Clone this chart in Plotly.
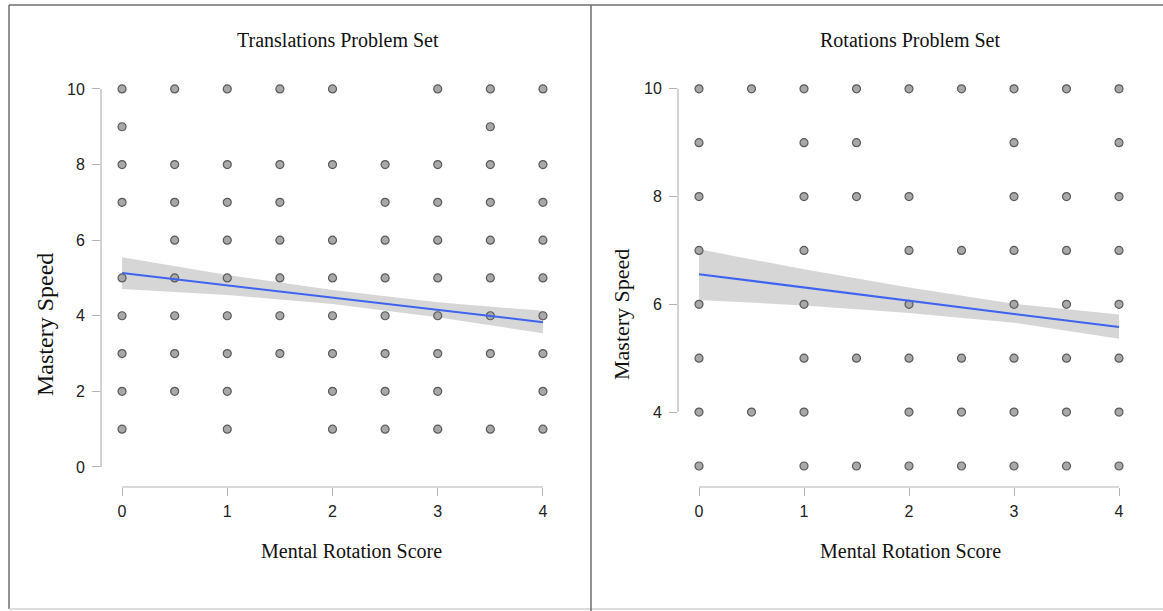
import plotly.graph_objects as go

# ---------------- data ----------------
# Translations Problem Set (left panel)
trans_x = [0, 0.5, 1, 1.5, 2, 3, 3.5, 4,
           0, 3.5,
           0, 0.5, 1, 1.5, 2, 2.5, 3, 3.5, 4,
           0, 0.5, 1, 1.5, 2.5, 3, 3.5, 4,
           0.5, 1, 1.5, 2, 2.5, 3, 3.5, 4,
           0, 0.5, 1, 1.5, 2, 2.5, 3, 3.5, 4,
           0, 0.5, 1, 1.5, 2, 2.5, 3, 3.5, 4,
           0, 0.5, 1, 1.5, 2, 2.5, 3, 3.5, 4,
           0, 0.5, 1, 2, 2.5, 3, 4,
           0, 1, 2, 2.5, 3, 3.5, 4]
trans_y = [10] * 8 + [9] * 2 + [8] * 9 + [7] * 8 + [6] * 8 + [5] * 9 + [4] * 9 + [3] * 9 + [2] * 7 + [1] * 7

# Rotations Problem Set (right panel)
rot_x = [0, 0.5, 1, 1.5, 2, 2.5, 3, 3.5, 4,
         0, 1, 1.5, 3, 4,
         0, 1, 1.5, 2, 3, 3.5, 4,
         0, 1, 2, 2.5, 3, 3.5, 4,
         0, 1, 2, 3, 3.5, 4,
         0, 1, 1.5, 2, 2.5, 3, 3.5, 4,
         0, 0.5, 1, 2, 2.5, 3, 3.5, 4,
         0, 1, 1.5, 2, 2.5, 3, 3.5, 4]
rot_y = [10] * 9 + [9] * 5 + [8] * 7 + [7] * 7 + [6] * 6 + [5] * 8 + [4] * 8 + [3] * 8

# regression fit line and confidence band
fit_x = [0, 1, 2, 3, 4]
trans_fit = [5.13, 4.81, 4.48, 4.16, 3.83]
trans_lo = [4.71, 4.55, 4.31, 3.96, 3.54]
trans_hi = [5.55, 5.08, 4.68, 4.36, 4.13]
rot_fit = [6.56, 6.31, 6.07, 5.82, 5.58]
rot_lo = [6.08, 5.98, 5.84, 5.66, 5.36]
rot_hi = [7.02, 6.65, 6.31, 6.01, 5.81]

x_ticks = [0, 1, 2, 3, 4]
trans_y_ticks = [0, 2, 4, 6, 8, 10]
rot_y_ticks = [4, 6, 8, 10]

panel_titles = ["Translations Problem Set", "Rotations Problem Set"]
x_title = "Mental Rotation Score"
y_title = "Mastery Speed"

# ---------------- figure ----------------
W, H = 1163, 611
fig = go.Figure()

AXIS_COL = "#b4b4b4"
PT_FILL = "#a8a8a8"
PT_LINE = "#5a5a5a"
BAND = "rgba(200,200,200,0.75)"
FIT = "#3d63f0"

panels = [
    ("x", "y", trans_x, trans_y, trans_fit, trans_lo, trans_hi),
    ("x2", "y2", rot_x, rot_y, rot_fit, rot_lo, rot_hi),
]
for xa, ya, px, py, fit, lo, hi in panels:
    fig.add_trace(go.Scatter(x=fit_x + fit_x[::-1], y=hi + lo[::-1], fill="toself",
                             fillcolor=BAND, line=dict(width=0), mode="lines",
                             hoverinfo="skip", xaxis=xa, yaxis=ya, showlegend=False))
    fig.add_trace(go.Scatter(x=px, y=py, mode="markers",
                             marker=dict(size=8, color=PT_FILL, line=dict(color=PT_LINE, width=1.2)),
                             xaxis=xa, yaxis=ya, showlegend=False))
    fig.add_trace(go.Scatter(x=fit_x, y=fit, mode="lines", line=dict(color=FIT, width=2),
                             xaxis=xa, yaxis=ya, showlegend=False))

ydom = [1 - 487 / H, 1 - 78 / H]
tickfont = dict(family="Liberation Sans, Arial, sans-serif", size=16, color="#222222")
common_x = dict(showgrid=False, zeroline=False, showline=False, ticks="outside", ticklen=8,
                tickcolor=AXIS_COL, tickwidth=1, tickfont=tickfont, tickvals=x_ticks,
                ticklabelstandoff=2, range=[-0.2, 4.2], fixedrange=True)
common_y = dict(showgrid=False, zeroline=False, showline=False, ticks="outside", ticklen=8,
                tickcolor=AXIS_COL, tickwidth=1, tickfont=tickfont, ticklabelstandoff=4,
                fixedrange=True)

fig.update_layout(
    width=W, height=H, margin=dict(l=0, r=0, t=0, b=0),
    paper_bgcolor="white", plot_bgcolor="white",
    xaxis=dict(domain=[101 / W, 564 / W], anchor="y", **common_x),
    yaxis=dict(domain=ydom, anchor="x", range=[-0.53, 10.29], tickvals=trans_y_ticks, **common_y),
    xaxis2=dict(domain=[678 / W, 1140 / W], anchor="y2", **common_x),
    yaxis2=dict(domain=ydom, anchor="x2", range=[2.61, 10.2], tickvals=rot_y_ticks, **common_y),
)

shapes = []
# axis lines spanning only the tick range
for xa, ya, yt in [("x", "y", trans_y_ticks), ("x2", "y2", rot_y_ticks)]:
    shapes.append(dict(type="line", xref=f"{xa} domain", yref=ya, x0=0, x1=0,
                       y0=yt[0], y1=yt[-1], line=dict(color=AXIS_COL, width=1.2)))
    shapes.append(dict(type="line", xref=xa, yref=f"{ya} domain", y0=0, y1=0,
                       x0=x_ticks[0], x1=x_ticks[-1], line=dict(color=AXIS_COL, width=1.2)))
# outer frame and divider
FRAME = "#6e6e6e"
shapes += [
    dict(type="line", xref="paper", yref="paper", x0=9 / W, x1=1, y0=1 - 5 / H, y1=1 - 5 / H,
         line=dict(color=FRAME, width=1.5)),
    dict(type="line", xref="paper", yref="paper", x0=9 / W, x1=9 / W, y0=1 - 5 / H, y1=1 - 609 / H,
         line=dict(color=FRAME, width=1.5)),
    dict(type="line", xref="paper", yref="paper", x0=9 / W, x1=1, y0=1 - 609 / H, y1=1 - 609 / H,
         line=dict(color="#d0d0d0", width=1.5)),
    dict(type="line", xref="paper", yref="paper", x0=591 / W, x1=591 / W, y0=1 - 5 / H, y1=0,
         line=dict(color=FRAME, width=1.5)),
]
fig.update_layout(shapes=shapes)

serif = dict(family="Liberation Serif, Times New Roman, serif", size=20, color="#111111")
ann = []
for cx, t in zip([338, 910], panel_titles):
    ann.append(dict(text=t, x=cx / W, y=1 - 40 / H, xref="paper", yref="paper",
                    showarrow=False, font=serif, xanchor="center", yanchor="middle"))
for cx in [351, 910]:
    ann.append(dict(text=x_title, x=cx / W, y=1 - 551 / H, xref="paper", yref="paper",
                    showarrow=False, font=serif, xanchor="center", yanchor="middle"))
for cx, cy, fs in [(45, 325, 24), (621, 315, 22)]:
    ann.append(dict(text=y_title, x=cx / W, y=1 - cy / H, xref="paper", yref="paper",
                    showarrow=False, font=dict(serif, size=fs), textangle=-90,
                    xanchor="center", yanchor="middle"))
fig.update_layout(annotations=ann)

fig.write_html("out.html", config={"displayModeBar": False},
               post_script="document.body.style.margin='0';document.body.style.overflow='hidden';")
